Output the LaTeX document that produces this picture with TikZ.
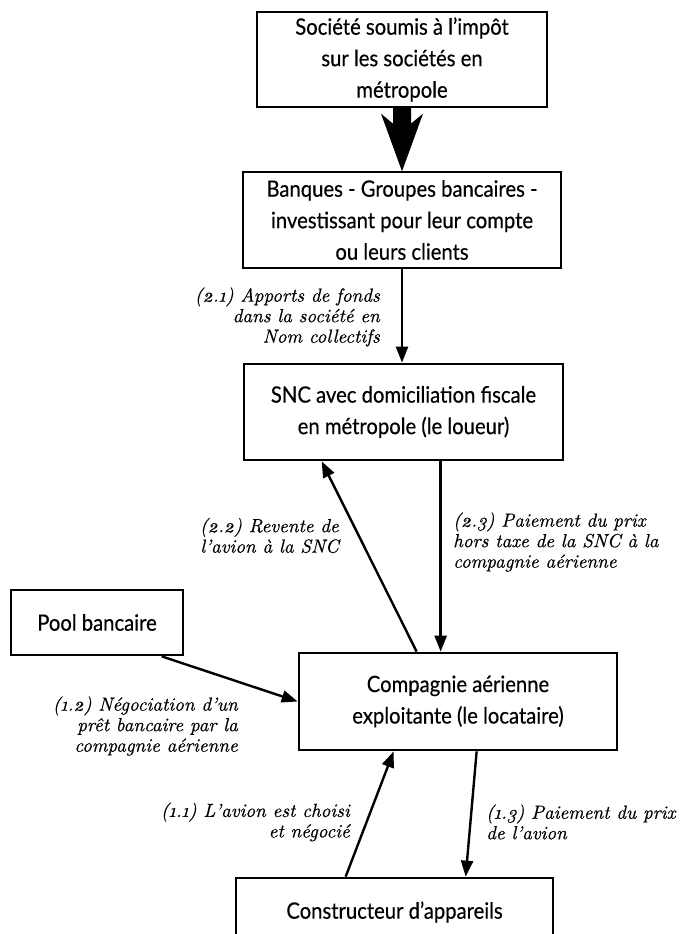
\documentclass[tikz,border=0pt]{standalone}
\usepackage{fontspec}
\newfontfamily\boxfont[FakeStretch=0.9,FakeBold=0.4]{Lato}
\newfontfamily\labfont[Numbers=OldStyle,FakeBold=0.5]{lmroman10-italic.otf}
\usetikzlibrary{arrows.meta,calc}
\begin{document}
\begin{tikzpicture}[x=1pt,y=-1pt,
 box/.style={draw,inner sep=0pt,align=center,font=\boxfont\fontsize{22.5}{31.5}\selectfont},
 thinbox/.style={box,line width=1.3pt},
 thickbox/.style={box,line width=2.7pt},
 lab/.style={inner sep=0pt,font=\labfont\fontsize{19}{20.5}\selectfont},
 conn/.style={line width=2.4pt,-{Triangle[length=16pt,width=12pt]}}]
\clip (0,0) rectangle (680,934);
\node[thinbox,minimum width=290pt,minimum height=95pt] (soc) at (402,59.5) {Société soumis à l’impôt\\sur les sociétés en\\métropole};
\node[thinbox,minimum width=318pt,minimum height=96pt] (ban) at (402,220) {Banques - Groupes bancaires -\\investissant pour leur compte\\ou leurs clients};
\node[thickbox,minimum width=319pt,minimum height=96pt] (snc) at (403.5,412) {SNC avec domiciliation fiscale\\en métropole (le loueur)};
\node[thickbox,minimum width=172pt,minimum height=65pt] (pool) at (97,622.5) {Pool bancaire};
\node[thickbox,minimum width=318pt,minimum height=97pt] (comp) at (458,701.5) {Compagnie aérienne\\exploitante (le locataire)};
\node[thickbox,minimum width=317pt,minimum height=68pt] (cons) at (394.5,912) {Constructeur d’appareils};

\fill ($(soc.south)+(-9,0)$) -- ($(soc.south)+(9,0)$) -- ($(soc.south)+(9,16)$) -- ($(soc.south)+(21,6)$) -- (ban.north) -- ($(soc.south)+(-21,6)$) -- ($(soc.south)+(-9,16)$) -- cycle;

\draw[conn] (ban.south) -- (ban.south |- snc.north);
\draw[conn] ($(comp.north west)+(119,0)$) -- ($(snc.south west)+(79,0)$);
\coordinate (s23) at ($(snc.south west)+(198,0)$);
\draw[conn] (s23) -- (s23 |- comp.north);
\draw[conn] ($(pool.south west)+(152,0)$) -- (comp.west);
\draw[conn] ($(cons.north west)+(111,0)$) -- ($(comp.south west)+(96,0)$);
\draw[conn] ($(comp.south west)+(179,0)$) -- ($(cons.north west)+(231,0)$);

\node[lab,anchor=east,align=right] (l21) at (380,317) {(2.1) Apports de fonds\\dans la société en\\Nom collectifs};
\node[lab,anchor=east,align=right] (l22) at (339,535.5) {(2.2) Revente de\\l’avion à la SNC};
\node[lab,anchor=west,align=left] (l23) at (453,542) {(2.3) Paiement du prix\\hors taxe de la SNC à la\\compagnie aérienne};
\node[lab,anchor=east,align=right] (l12) at (238,726) {(1.2) Négociation d’un\\prêt bancaire par la\\compagnie aérienne};
\node[lab,anchor=east,align=right] (l11) at (350,822) {(1.1) L’avion est choisi\\et négocié};
\node[lab,anchor=west,align=left] (l13) at (486,822) {(1.3) Paiement du prix\\de l’avion};
\end{tikzpicture}
\end{document}
